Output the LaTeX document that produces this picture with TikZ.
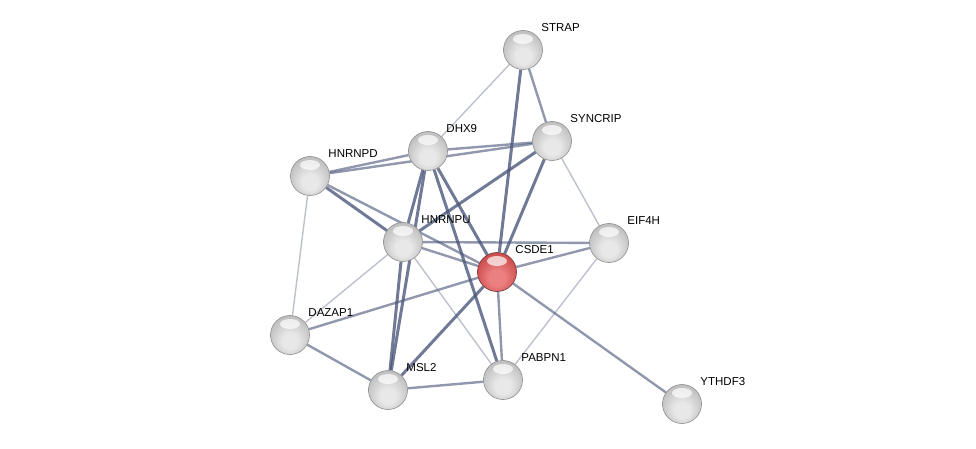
\documentclass[tikz,border=0pt]{standalone}
\usepackage{fontspec}
\setsansfont{Liberation Sans}
\usetikzlibrary{backgrounds}
\definecolor{linkblue}{RGB}{72,84,120}
\definecolor{ballhi}{RGB}{232,232,232}
\definecolor{ballmid}{RGB}{196,196,196}
\definecolor{ballrim}{RGB}{135,135,135}
\definecolor{redhi}{RGB}{236,128,128}
\definecolor{redmid}{RGB}{208,82,82}
\definecolor{redrim}{RGB}{140,35,35}
\pgfdeclareradialshading{greysphere}{\pgfpoint{0bp}{-10bp}}{%
  color(0bp)=(ballhi); color(10bp)=(ballhi); color(26bp)=(ballmid);
  color(38bp)=(ballmid!70!ballrim); color(46bp)=(ballrim); color(50bp)=(ballrim)}
\pgfdeclareradialshading{redsphere}{\pgfpoint{0bp}{-10bp}}{%
  color(0bp)=(redhi); color(10bp)=(redhi); color(26bp)=(redmid);
  color(38bp)=(redmid!70!redrim); color(46bp)=(redrim); color(50bp)=(redrim)}
\tikzset{
  protein/.style={
    circle,
    minimum size=39pt,
    inner sep=0pt,
    draw=black!45,
    line width=0.6pt,
    shading=greysphere,
    path picture={
      \fill[white, fill opacity=0.7]
        ([yshift=11pt]path picture bounding box.center) ellipse [x radius=10pt, y radius=5pt];
    }
  },
  query/.style={
    protein,
    shading=redsphere,
    draw=red!30!black!80
  },
  tag/.style={
    anchor=south west,
    inner sep=0pt,
    font=\sffamily\fontsize{11.5}{13}\selectfont
  },
  link/.style={
    draw=linkblue,
    line width=2.4pt,
    draw opacity=0.6
  },
  stronglink/.style={
    link,
    line width=3pt,
    draw opacity=0.78
  },
  weaklink/.style={
    link,
    line width=1.4pt,
    draw opacity=0.36
  }
}

\begin{document}
\begin{tikzpicture}[x=1pt, y=-1pt, label distance=6pt]
  \useasboundingbox (0,0) rectangle (976,449);

  \node[protein, label={[tag]45:STRAP}] (strap) at (523,50) {};
  \node[protein, label={[tag]45:SYNCRIP}] (syncrip) at (552,141) {};
  \node[protein, label={[tag]45:DHX9}] (dhx9) at (428,151) {};
  \node[protein, label={[tag]45:HNRNPD}] (hnrnpd) at (310,176) {};
  \node[protein, label={[tag]45:HNRNPU}] (hnrnpu) at (403,242) {};
  \node[protein, label={[tag]45:EIF4H}] (eif4h) at (609,243) {};
  \node[query, label={[tag]45:CSDE1}] (csde1) at (497,272) {};
  \node[protein, label={[tag]45:DAZAP1}] (dazap1) at (290,335) {};
  \node[protein, label={[tag]45:MSL2}] (msl2) at (388,390) {};
  \node[protein, label={[tag]45:PABPN1}] (pabpn1) at (503,380) {};
  \node[protein, label={[tag]45:YTHDF3}] (ythdf3) at (682,404) {};

  \begin{scope}[on background layer]
    % faint evidence
    \draw[weaklink] (strap) -- (dhx9);
    \draw[weaklink] (syncrip) -- (eif4h);
    \draw[weaklink] (hnrnpd) -- (dazap1);
    \draw[weaklink] (hnrnpu) -- (dazap1);
    \draw[weaklink] (hnrnpu) -- (pabpn1);
    \draw[weaklink] (eif4h) -- (pabpn1);
    % medium
    \draw[link] (strap) -- (syncrip);
    \draw[link] (dhx9) -- (syncrip);
    \draw[link] (hnrnpd) -- (dhx9);
    \draw[link] (hnrnpd) -- (syncrip);
    \draw[link] (hnrnpd) -- (csde1);
    \draw[link] (hnrnpu) -- (csde1);
    \draw[link] (hnrnpu) -- (eif4h);
    \draw[link] (csde1) -- (eif4h);
    \draw[link] (csde1) -- (dazap1);
    \draw[link] (csde1) -- (pabpn1);
    \draw[link] (csde1) -- (ythdf3);
    \draw[link] (dazap1) -- (msl2);
    \draw[link] (msl2) -- (pabpn1);
    % strong
    \draw[stronglink] (strap) -- (csde1);
    \draw[stronglink] (dhx9) -- (hnrnpu);
    \draw[stronglink] (dhx9) -- (msl2);
    \draw[stronglink] (dhx9) -- (csde1);
    \draw[stronglink] (dhx9) -- (pabpn1);
    \draw[stronglink] (syncrip) -- (hnrnpu);
    \draw[stronglink] (syncrip) -- (csde1);
    \draw[stronglink] (hnrnpd) -- (hnrnpu);
    \draw[stronglink] (hnrnpu) -- (msl2);
    \draw[stronglink] (csde1) -- (msl2);
  \end{scope}
\end{tikzpicture}
\end{document}
